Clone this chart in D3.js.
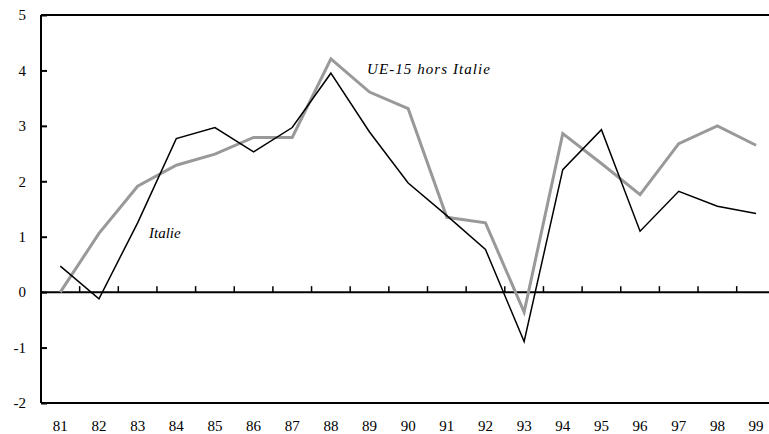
<!DOCTYPE html>
<html>
<head>
<meta charset="utf-8">
<script src="https://cdn.jsdelivr.net/npm/d3@7"></script>
<style>
  body { margin: 0; background: #fff; }
  svg { display: block; }
  svg text { font-family: "Times New Roman", Times, "Liberation Serif", "DejaVu Serif", serif; fill: #000; }
</style>
</head>
<body>
<div id="chart"></div>
<script>
// Years (categories)
const years = ["81","82","83","84","85","86","87","88","89","90","91","92","93","94","95","96","97","98","99"];

// Italie
const italie = [0.47,-0.12,1.25,2.77,2.97,2.53,2.97,3.95,2.89,1.97,1.38,0.77,-0.89,2.21,2.93,1.10,1.82,1.55,1.42];

// UE-15 hors Italie
const ue15 = [0.0,1.06,1.91,2.29,2.49,2.79,2.79,4.21,3.61,3.31,1.35,1.25,-0.36,2.86,2.32,1.76,2.68,3.0,2.65];

// Y tick labels
const yTicks = [-2,-1,0,1,2,3,4,5];

const width = 769, height = 434;
const plotLeft = 41, plotTop = 15, plotBottom = 403;
const bandW = 38.65;
const plotRight = plotLeft + years.length * bandW;
const serif = "'Times New Roman', Times, 'Liberation Serif', 'DejaVu Serif', serif";

const svg = d3.select("#chart")
  .append("svg")
  .attr("width", width)
  .attr("height", height);

// Scales
const x = d3.scaleBand().domain(years).range([plotLeft, plotRight]).padding(0);
const y = d3.scaleLinear().domain([-2, 5]).range([plotBottom, plotTop]);
const cx = (d) => x(d) + x.bandwidth() / 2;

// Frame: top and bottom lines
svg.append("line")
  .attr("x1", plotLeft).attr("x2", plotRight)
  .attr("y1", plotTop).attr("y2", plotTop)
  .attr("stroke", "#000").attr("stroke-width", 2);
svg.append("line")
  .attr("x1", plotLeft).attr("x2", plotRight)
  .attr("y1", plotBottom).attr("y2", plotBottom)
  .attr("stroke", "#000").attr("stroke-width", 2);

// Y axis (hyphen as minus sign, like the original)
const yAxis = svg.append("g")
  .attr("transform", `translate(${plotLeft},0)`)
  .call(d3.axisLeft(y).tickValues(yTicks).tickSize(-6).tickPadding(15).tickFormat((d) => String(d)));
yAxis.attr("font-family", serif).attr("font-size", 15);
yAxis.selectAll("text").style("font-family", serif);
yAxis.select(".domain").attr("stroke-width", 2).attr("d", `M0,${plotTop}V${plotBottom}`);
yAxis.selectAll(".tick line").attr("stroke-width", 2);

// X labels
const xAxis = svg.append("g")
  .attr("transform", `translate(0,${plotBottom})`)
  .call(d3.axisBottom(x).tickSize(0).tickPadding(17));
xAxis.attr("font-family", serif).attr("font-size", 15);
xAxis.selectAll("text").style("font-family", serif);
xAxis.select(".domain").remove();

// Zero line with upward ticks at category boundaries
svg.append("line")
  .attr("x1", plotLeft).attr("x2", plotRight)
  .attr("y1", y(0)).attr("y2", y(0))
  .attr("stroke", "#000").attr("stroke-width", 2);
svg.append("g")
  .selectAll("line")
  .data(years.slice(1))
  .join("line")
  .attr("x1", (d) => x(d)).attr("x2", (d) => x(d))
  .attr("y1", y(0)).attr("y2", y(0) - 6)
  .attr("stroke", "#000").attr("stroke-width", 1.5);

// Lines
const line = (vals) => d3.line()
  .x((d, i) => cx(years[i]))
  .y((d) => y(d))(vals);

svg.append("path")
  .attr("d", line(ue15))
  .attr("fill", "none")
  .attr("stroke", "#999")
  .attr("stroke-width", 3);

svg.append("path")
  .attr("d", line(italie))
  .attr("fill", "none")
  .attr("stroke", "#000")
  .attr("stroke-width", 1.5);

// Series labels
svg.append("text")
  .attr("x", 367).attr("y", 74)
  .attr("font-size", 15).attr("font-style", "italic")
  .style("font-family", serif)
  .attr("textLength", 123)
  .text("UE-15 hors Italie");
svg.append("text")
  .attr("x", 149).attr("y", 238)
  .attr("font-size", 15).attr("font-style", "italic")
  .style("font-family", serif)
  .text("Italie");
</script>
</body>
</html>
